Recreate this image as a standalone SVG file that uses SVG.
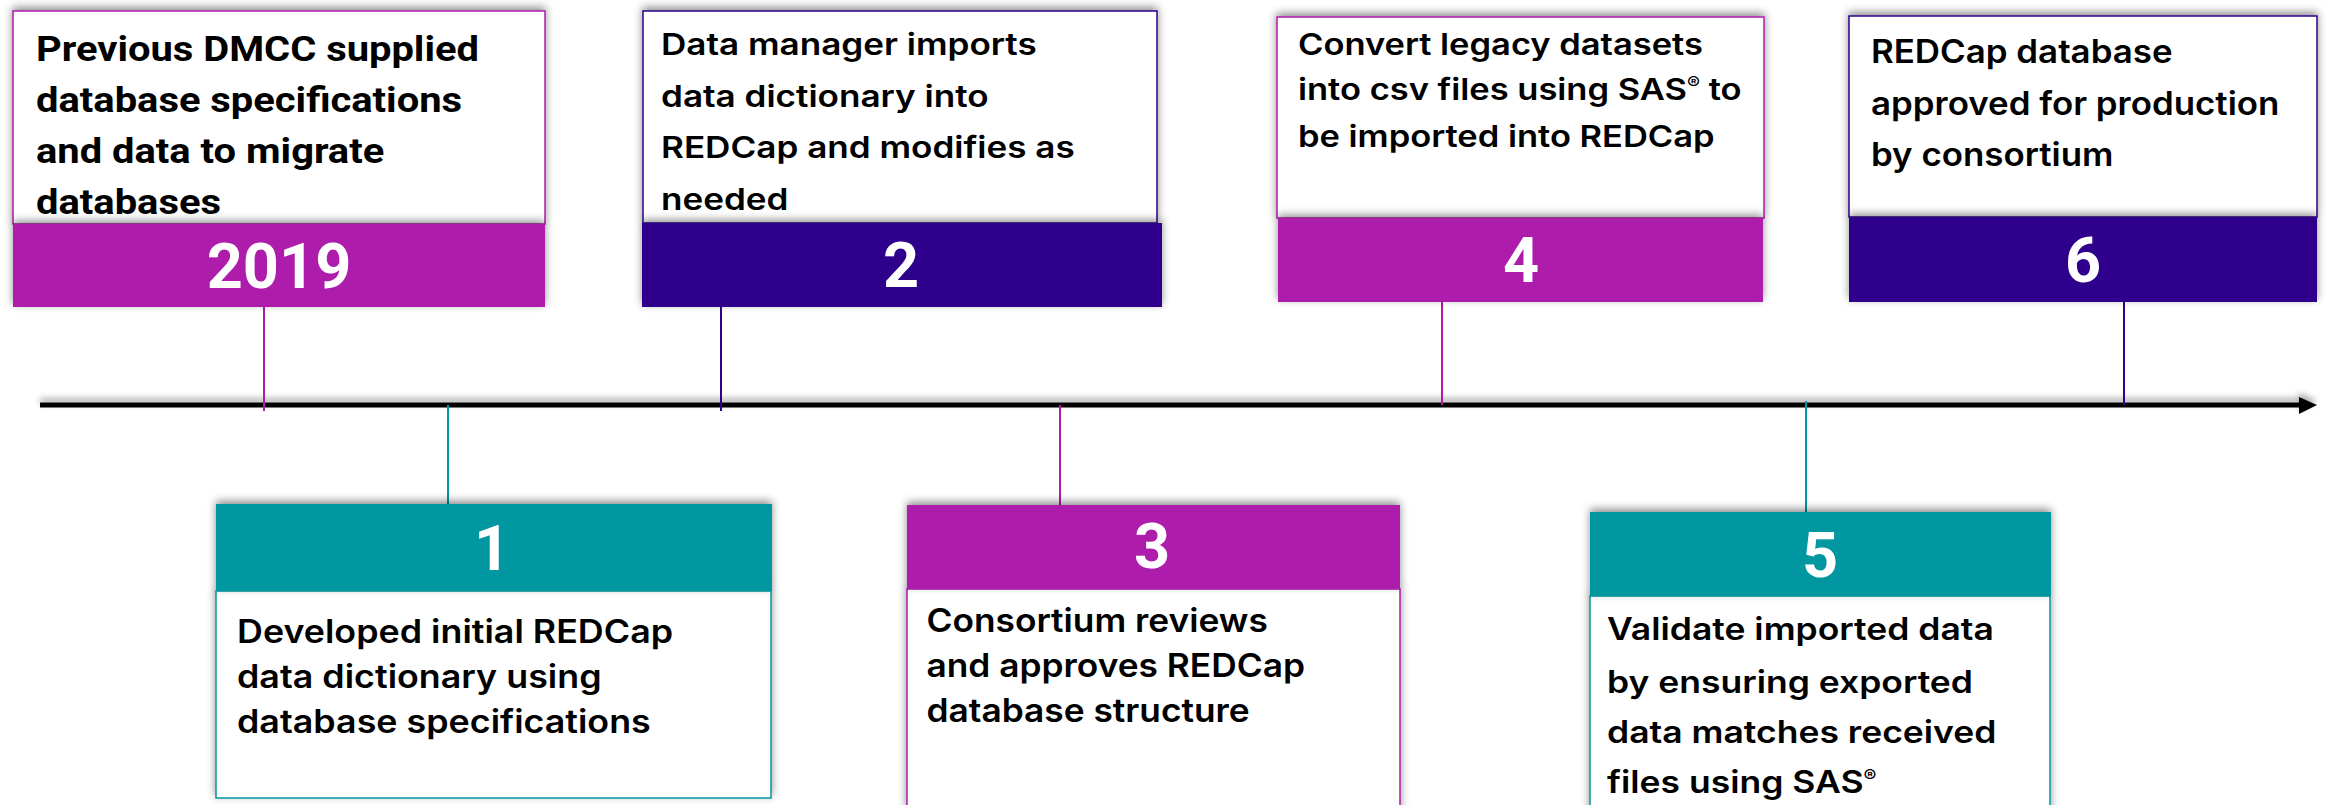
<svg xmlns="http://www.w3.org/2000/svg" width="2328" height="805" viewBox="0 0 2328 805">
<defs>
<filter id="sh" x="-10%" y="-30%" width="120%" height="160%">
<feDropShadow dx="0" dy="-3" stdDeviation="4" flood-color="#000" flood-opacity="0.45"/>
</filter>
<filter id="lsh" x="-5%" y="-300%" width="110%" height="700%">
<feDropShadow dx="0" dy="-4" stdDeviation="3" flood-color="#000" flood-opacity="0.35"/>
</filter>
<style>
.box{fill:#fff;stroke-width:1.5}
.mag{fill:#AE1AAB}.pur{fill:#2E008B}.tea{fill:#0097A0}
.smag{stroke:#AE1AAB}.spur{stroke:#2E008B}.stea{stroke:#0097A0}
.num{font-family:Roboto,"Liberation Sans",sans-serif;font-weight:700;font-size:63px;fill:#fff;text-anchor:middle}
.t0{font-family:Roboto,"Liberation Sans",sans-serif;font-weight:700;font-size:35px;fill:#000}
.t{font-family:Inter,"Noto Sans",sans-serif;font-weight:600;font-size:30px;fill:#000}
.reg{font-size:17px}
.con{stroke-width:2;fill:none}
</style>
</defs>
<rect width="2328" height="805" fill="#fff"/>

<g id="timeline" filter="url(#lsh)">
<line x1="40" y1="405" x2="2302" y2="405" stroke="#000" stroke-width="5"/>
<polygon points="2299,397 2317,405 2299,414" fill="#000"/>
</g>

<g id="connectors">
<line class="con smag" x1="264" y1="307" x2="264" y2="411"/>
<line class="con stea" x1="448" y1="405" x2="448" y2="504"/>
<line class="con spur" x1="721" y1="307" x2="721" y2="411"/>
<line class="con smag" x1="1060" y1="405" x2="1060" y2="505"/>
<line class="con smag" x1="1442" y1="302" x2="1442" y2="405"/>
<line class="con stea" x1="1806" y1="401" x2="1806" y2="512"/>
<line class="con spur" x1="2124" y1="302" x2="2124" y2="405"/>
</g>

<g id="node-2019">
<rect class="box smag" x="13" y="11" width="532" height="213" filter="url(#sh)"/>
<rect class="mag" x="13" y="224" width="532" height="83" filter="url(#sh)"/>
<text class="t0" transform="translate(36 0) scale(1.14 1)"><tspan x="0" y="61">Previous DMCC supplied</tspan><tspan x="0" y="112">database specifications</tspan><tspan x="0" y="163">and data to migrate</tspan><tspan x="0" y="214">databases</tspan></text>
<text class="num" x="279" y="288">2019</text>
</g>

<g id="node-1">
<rect class="box stea" x="216" y="591" width="555" height="207" filter="url(#sh)"/>
<rect class="tea" x="216" y="504" width="556" height="87" filter="url(#sh)"/>
<text class="num" x="492" y="570">1</text>
<text class="t" style="font-size:32px" transform="translate(237 0) scale(1.12 1)"><tspan x="0" y="643">Developed initial REDCap</tspan><tspan x="0" y="688">data dictionary using</tspan><tspan x="0" y="733">database specifications</tspan></text>
</g>

<g id="node-2">
<rect class="box spur" x="643" y="11" width="514" height="212" filter="url(#sh)"/>
<rect class="pur" x="642" y="223" width="520" height="84" filter="url(#sh)"/>
<text class="t" transform="translate(661 0) scale(1.17 1)"><tspan x="0" y="55">Data manager imports</tspan><tspan x="0" y="107">data dictionary into</tspan><tspan x="0" y="158">REDCap and modifies as</tspan><tspan x="0" y="210">needed</tspan></text>
<text class="num" x="901" y="287">2</text>
</g>

<g id="node-3">
<rect class="box smag" x="907" y="589" width="493" height="225" filter="url(#sh)"/>
<rect class="mag" x="907" y="505" width="493" height="84" filter="url(#sh)"/>
<text class="num" x="1152" y="568">3</text>
<text class="t" style="font-size:33px" transform="translate(926.5 0) scale(1.07 1)"><tspan x="0" y="632">Consortium reviews</tspan><tspan x="0" y="677">and approves REDCap</tspan><tspan x="0" y="722">database structure</tspan></text>
</g>

<g id="node-4">
<rect class="box smag" x="1277" y="17" width="487" height="201" filter="url(#sh)"/>
<rect class="mag" x="1278" y="218" width="485" height="84" filter="url(#sh)"/>
<text class="t" transform="translate(1298 0) scale(1.15 1)"><tspan x="0" y="55">Convert legacy datasets</tspan><tspan x="0" y="100">into csv files using SAS<tspan class="reg" dy="-11">®</tspan><tspan dy="11"> to</tspan></tspan><tspan x="0" y="147">be imported into REDCap</tspan></text>
<text class="num" x="1521" y="282">4</text>
</g>

<g id="node-5">
<rect class="box stea" x="1590" y="596" width="460" height="218" filter="url(#sh)"/>
<rect class="tea" x="1590" y="512" width="461" height="84" filter="url(#sh)"/>
<text class="num" x="1820" y="577">5</text>
<text class="t" style="font-size:31px" transform="translate(1607 0) scale(1.145 1)"><tspan x="0" y="640">Validate imported data</tspan><tspan x="0" y="693">by ensuring exported</tspan><tspan x="0" y="743">data matches received</tspan><tspan x="0" y="793">files using SAS<tspan class="reg" dy="-11">®</tspan></tspan></text>
</g>

<g id="node-6">
<rect class="box spur" x="1849" y="16" width="468" height="201" filter="url(#sh)"/>
<rect class="pur" x="1849" y="217" width="468" height="85" filter="url(#sh)"/>
<text class="t" style="font-size:32px" transform="translate(1871 0) scale(1.09 1)"><tspan x="0" y="63">REDCap database</tspan><tspan x="0" y="115">approved for production</tspan><tspan x="0" y="166">by consortium</tspan></text>
<text class="num" x="2083" y="282">6</text>
</g>
</svg>
